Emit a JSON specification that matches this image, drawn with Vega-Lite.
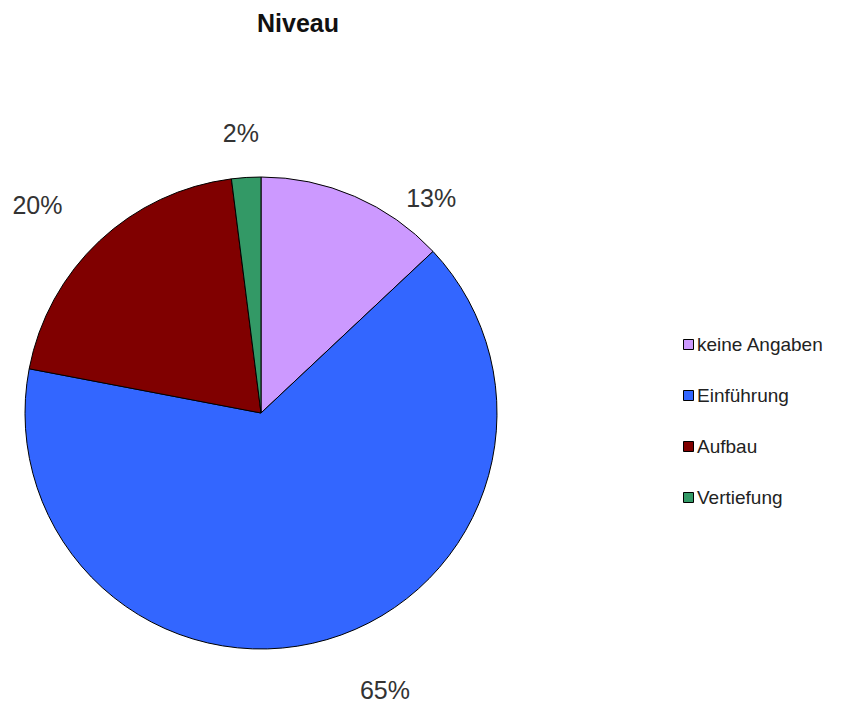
{
  "$schema": "https://vega.github.io/schema/vega-lite/v6.json",
  "width": 472,
  "height": 472,
  "autosize": "none",
  "padding": {"left": 25, "top": 177, "right": 347, "bottom": 59},
  "background": "white",
  "title": {
    "text": "Niveau",
    "font": "Liberation Sans",
    "fontSize": 25,
    "fontWeight": "bold",
    "color": "#111111",
    "anchor": "middle",
    "dx": 37,
    "offset": 75
  },
  "data": {
    "values": [
      {"Niveau": "keine Angaben", "Anteil": 13, "order": 1, "label": "13%"},
      {"Niveau": "Einführung", "Anteil": 65, "order": 2, "label": "65%"},
      {"Niveau": "Aufbau", "Anteil": 20, "order": 3, "label": "20%"},
      {"Niveau": "Vertiefung", "Anteil": 2, "order": 4, "label": "2%"}
    ]
  },
  "encoding": {
    "theta": {"field": "Anteil", "type": "quantitative", "stack": true},
    "order": {"field": "order", "type": "quantitative"}
  },
  "layer": [
    {
      "mark": {"type": "arc", "outerRadius": 236, "stroke": "#000000", "strokeWidth": 1},
      "encoding": {
        "color": {
          "field": "Niveau",
          "type": "nominal",
          "sort": ["keine Angaben", "Einführung", "Aufbau", "Vertiefung"],
          "scale": {
            "domain": ["keine Angaben", "Einführung", "Aufbau", "Vertiefung"],
            "range": ["#CC99FF", "#3366FF", "#800000", "#339966"]
          },
          "legend": {
            "title": null,
            "orient": "none",
            "legendX": 654,
            "legendY": 158,
            "symbolType": "square",
            "symbolSize": 100,
            "symbolStrokeColor": "#000000",
            "symbolStrokeWidth": 1,
            "labelFont": "Liberation Sans",
            "labelFontSize": 19,
            "labelColor": "#222222",
            "labelOffset": -1,
            "rowPadding": 31
          }
        }
      }
    },
    {
      "mark": {"type": "text", "radius": 290, "dx": 55, "dy": 52, "font": "Liberation Sans", "fontSize": 25, "color": "#333333"},
      "encoding": {
        "text": {"field": "label", "type": "nominal"},
        "opacity": {"condition": {"test": "datum.order == 1", "value": 1}, "value": 0}
      }
    },
    {
      "mark": {"type": "text", "radius": 290, "dx": 43, "dy": 0, "font": "Liberation Sans", "fontSize": 25, "color": "#333333"},
      "encoding": {
        "text": {"field": "label", "type": "nominal"},
        "opacity": {"condition": {"test": "datum.order == 2", "value": 1}, "value": 0}
      }
    },
    {
      "mark": {"type": "text", "radius": 290, "dx": -25, "dy": 4, "font": "Liberation Sans", "fontSize": 25, "color": "#333333"},
      "encoding": {
        "text": {"field": "label", "type": "nominal"},
        "opacity": {"condition": {"test": "datum.order == 3", "value": 1}, "value": 0}
      }
    },
    {
      "mark": {"type": "text", "radius": 290, "dx": -2, "dy": 10, "font": "Liberation Sans", "fontSize": 25, "color": "#333333"},
      "encoding": {
        "text": {"field": "label", "type": "nominal"},
        "opacity": {"condition": {"test": "datum.order == 4", "value": 1}, "value": 0}
      }
    }
  ]
}
